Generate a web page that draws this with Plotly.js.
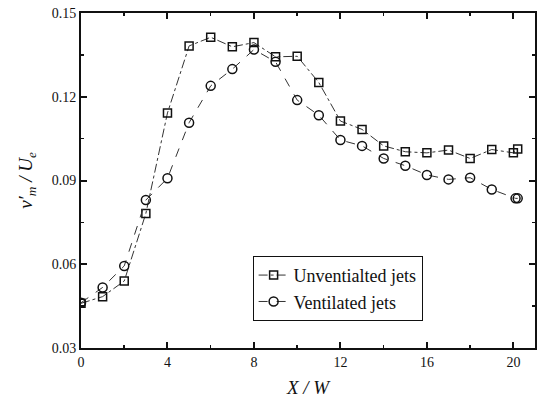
<!DOCTYPE html>
<html><head><meta charset="utf-8">
<script src="https://cdn.plot.ly/plotly-3.0.1.min.js"></script>
<style>html,body{margin:0;padding:0;background:#fff}</style>
</head><body><div id="chart" style="width:542px;height:401px"></div>
<script>
const xUnvent = [0, 1, 2, 3, 4, 5, 6, 7, 8, 9, 10, 11, 12, 13, 14, 15, 16, 17, 18, 19, 20, 20.2];
const yUnvent = [0.046, 0.0484, 0.054, 0.0782, 0.1142, 0.1382, 0.1413, 0.1379, 0.1394, 0.1343, 0.1345, 0.1251, 0.1113, 0.1083, 0.1024, 0.1003, 0.0999, 0.1009, 0.0979, 0.1011, 0.0999, 0.1013];
const xVent = [0, 1, 2, 3, 4, 5, 6, 7, 8, 9, 10, 11, 12, 13, 14, 15, 16, 17, 18, 19, 20.1, 20.2];
const yVent = [0.0462, 0.0517, 0.0594, 0.083, 0.0908, 0.1107, 0.1239, 0.1299, 0.1369, 0.1325, 0.1188, 0.1134, 0.1045, 0.1024, 0.0979, 0.0953, 0.092, 0.0904, 0.091, 0.0868, 0.0836, 0.0836];
const xTicks = [0, 4, 8, 12, 16, 20];
const yTicks = [0.03, 0.06, 0.09, 0.12, 0.15];
const yTickText = ['0.03', '0.06', '0.09', '0.12', '0.15'];

const fam = 'Times New Roman, Liberation Serif, DejaVu Serif, serif';
const font = {family: fam, color: '#111', size: 14};
const traces = [
  {x: xUnvent, y: yUnvent, name: 'Unventialted jets', mode: 'lines+markers',
   line: {color: '#333', width: 1, dash: 'dashdot'},
   marker: {symbol: 'square-open', size: 8, color: '#111', line: {width: 1.5}}},
  {x: xVent, y: yVent, name: 'Ventilated jets', mode: 'lines+markers',
   line: {color: '#333', width: 1, dash: 'dash'},
   marker: {symbol: 'circle-open', size: 9, color: '#111', line: {width: 1.5}}}
];
const axisCommon = {showgrid: false, zeroline: false, showline: true, linecolor: '#111', linewidth: 2,
  mirror: 'ticks', ticks: 'inside', ticklen: 6, tickwidth: 2, tickcolor: '#111', tickfont: font};
const layout = {
  width: 542, height: 401,
  margin: {l: 81, r: 7, t: 13, b: 53},
  paper_bgcolor: '#fff', plot_bgcolor: '#fff',
  font: font,
  showlegend: true,
  legend: {x: 0.378, y: 0.275, xanchor: 'left', yanchor: 'top', bgcolor: '#fff',
    bordercolor: '#111', borderwidth: 1, font: {family: fam, size: 18, color: '#111'},
    tracegroupgap: 0, itemwidth: 30},
  xaxis: Object.assign({}, axisCommon, {range: [0, 21], tickvals: xTicks, ticktext: xTicks.map(String),
    minor: {ticks: 'inside', dtick: 2, tick0: 0, ticklen: 3, tickwidth: 1.5, tickcolor: '#111'},
    title: {text: '<i>X / W</i>', font: {family: fam, size: 19, color: '#111'}, standoff: 12}}),
  yaxis: Object.assign({}, axisCommon, {range: [0.03, 0.15], tickvals: yTicks, ticktext: yTickText,
    minor: {ticks: 'inside', dtick: 0.015, tick0: 0.03, ticklen: 3, tickwidth: 1.5, tickcolor: '#111'},
    title: {text: '<i>v′<sub>m</sub> / U<sub>e</sub></i>', font: {family: fam, size: 19, color: '#111'}, standoff: 14}})
};
Plotly.newPlot('chart', traces, layout, {displayModeBar: false, staticPlot: true});
</script></body></html>
